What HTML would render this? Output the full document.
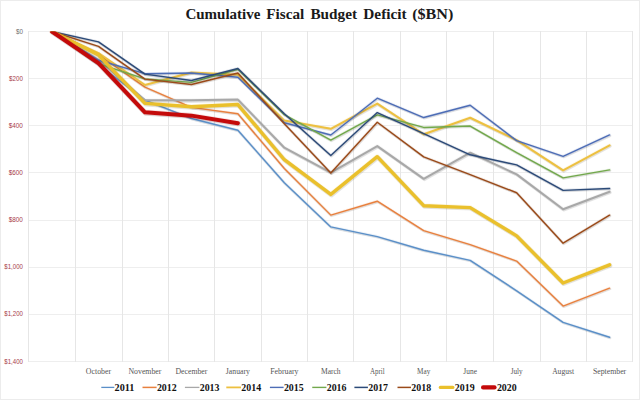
<!DOCTYPE html><html><head><meta charset="utf-8"><style>
html,body{margin:0;padding:0;background:#fff;width:640px;height:400px;overflow:hidden}
svg{display:block}
</style></head><body>
<svg width="640" height="400" viewBox="0 0 640 400">
<rect x="0" y="0" width="640" height="400" fill="#fff"/>
<rect x="0.5" y="0.5" width="639" height="399" fill="none" stroke="#ececec" stroke-width="1"/>
<text x="185.4" y="19.2" font-family="Liberation Serif, serif" font-weight="bold" font-size="15.3" fill="#1a1a1a" textLength="75.0" lengthAdjust="spacingAndGlyphs">Cumulative</text>
<text x="266.3" y="19.2" font-family="Liberation Serif, serif" font-weight="bold" font-size="15.3" fill="#1a1a1a" textLength="38.0" lengthAdjust="spacingAndGlyphs">Fiscal</text>
<text x="310.4" y="19.2" font-family="Liberation Serif, serif" font-weight="bold" font-size="15.3" fill="#1a1a1a" textLength="46.6" lengthAdjust="spacingAndGlyphs">Budget</text>
<text x="363.3" y="19.2" font-family="Liberation Serif, serif" font-weight="bold" font-size="15.3" fill="#1a1a1a" textLength="43.4" lengthAdjust="spacingAndGlyphs">Deficit</text>
<text x="412.2" y="19.2" font-family="Liberation Serif, serif" font-weight="bold" font-size="15.3" fill="#1a1a1a" textLength="41.2" lengthAdjust="spacingAndGlyphs">($BN)</text>
<path d="M28.00 31.50H633.00M28.00 78.50H633.00M28.00 125.50H633.00M28.00 172.50H633.00M28.00 220.50H633.00M28.00 267.50H633.00M28.00 314.50H633.00M28.00 361.50H633.00" stroke="#eeeeee" stroke-width="1" fill="none"/>
<path d="M28.50 31.00V362.00M75.50 31.00V362.00M122.50 31.00V362.00M168.50 31.00V362.00M214.50 31.00V362.00M261.50 31.00V362.00M307.50 31.00V362.00M353.50 31.00V362.00M400.50 31.00V362.00M446.50 31.00V362.00M493.50 31.00V362.00M540.50 31.00V362.00M586.50 31.00V362.00M632.50 31.00V362.00" stroke="#e6e6e6" stroke-width="1" fill="none"/>
<text x="15.90" y="33.50" font-family="Liberation Sans, sans-serif" font-size="8" fill="#707070" textLength="7.0" lengthAdjust="spacingAndGlyphs">$0</text>
<text x="9.10" y="80.64" font-family="Liberation Sans, sans-serif" font-size="8" fill="#a83c4a" textLength="13.8" lengthAdjust="spacingAndGlyphs">$200</text>
<text x="8.70" y="127.79" font-family="Liberation Sans, sans-serif" font-size="8" fill="#a83c4a" textLength="14.2" lengthAdjust="spacingAndGlyphs">$400</text>
<text x="8.70" y="174.93" font-family="Liberation Sans, sans-serif" font-size="8" fill="#a83c4a" textLength="14.2" lengthAdjust="spacingAndGlyphs">$600</text>
<text x="8.70" y="222.07" font-family="Liberation Sans, sans-serif" font-size="8" fill="#a83c4a" textLength="14.2" lengthAdjust="spacingAndGlyphs">$800</text>
<text x="4.30" y="269.21" font-family="Liberation Sans, sans-serif" font-size="8" fill="#a83c4a" textLength="18.6" lengthAdjust="spacingAndGlyphs">$1,000</text>
<text x="4.30" y="316.36" font-family="Liberation Sans, sans-serif" font-size="8" fill="#a83c4a" textLength="18.6" lengthAdjust="spacingAndGlyphs">$1,200</text>
<text x="4.30" y="363.50" font-family="Liberation Sans, sans-serif" font-size="8" fill="#a83c4a" textLength="18.6" lengthAdjust="spacingAndGlyphs">$1,400</text>
<text x="98.49" y="373.6" text-anchor="middle" font-family="Liberation Serif, serif" font-size="8.6" fill="#555" textLength="25.3" lengthAdjust="spacingAndGlyphs">October</text>
<text x="144.95" y="373.6" text-anchor="middle" font-family="Liberation Serif, serif" font-size="8.6" fill="#555" textLength="33.0" lengthAdjust="spacingAndGlyphs">November</text>
<text x="191.41" y="373.6" text-anchor="middle" font-family="Liberation Serif, serif" font-size="8.6" fill="#555" textLength="32.0" lengthAdjust="spacingAndGlyphs">December</text>
<text x="237.87" y="373.6" text-anchor="middle" font-family="Liberation Serif, serif" font-size="8.6" fill="#555" textLength="24.0" lengthAdjust="spacingAndGlyphs">January</text>
<text x="284.33" y="373.6" text-anchor="middle" font-family="Liberation Serif, serif" font-size="8.6" fill="#555" textLength="28.4" lengthAdjust="spacingAndGlyphs">February</text>
<text x="330.79" y="373.6" text-anchor="middle" font-family="Liberation Serif, serif" font-size="8.6" fill="#555" textLength="19.7" lengthAdjust="spacingAndGlyphs">March</text>
<text x="377.25" y="373.6" text-anchor="middle" font-family="Liberation Serif, serif" font-size="8.6" fill="#555" textLength="14.7" lengthAdjust="spacingAndGlyphs">April</text>
<text x="423.71" y="373.6" text-anchor="middle" font-family="Liberation Serif, serif" font-size="8.6" fill="#555" textLength="13.2" lengthAdjust="spacingAndGlyphs">May</text>
<text x="470.17" y="373.6" text-anchor="middle" font-family="Liberation Serif, serif" font-size="8.6" fill="#555" textLength="13.6" lengthAdjust="spacingAndGlyphs">June</text>
<text x="516.63" y="373.6" text-anchor="middle" font-family="Liberation Serif, serif" font-size="8.6" fill="#555" textLength="12.0" lengthAdjust="spacingAndGlyphs">July</text>
<text x="563.09" y="373.6" text-anchor="middle" font-family="Liberation Serif, serif" font-size="8.6" fill="#555" textLength="21.9" lengthAdjust="spacingAndGlyphs">August</text>
<text x="609.55" y="373.6" text-anchor="middle" font-family="Liberation Serif, serif" font-size="8.6" fill="#555" textLength="33.3" lengthAdjust="spacingAndGlyphs">September</text>
<defs><clipPath id="pc"><rect x="28.80" y="31.50" width="603.98" height="330.00"/></clipPath></defs>
<g clip-path="url(#pc)">
<polyline points="52.03,31.50 98.49,64.50 144.95,100.09 191.41,118.48 237.87,130.26 284.33,182.83 330.79,226.91 377.25,236.57 423.71,250.24 470.17,260.38 516.63,290.79 563.09,322.37 609.55,337.22" fill="none" stroke="#000" stroke-opacity="0.10" stroke-width="2.2" stroke-linejoin="round" stroke-linecap="round" transform="translate(0.7,0.9)"/>
<polyline points="52.03,31.50 98.49,64.50 144.95,100.09 191.41,118.48 237.87,130.26 284.33,182.83 330.79,226.91 377.25,236.57 423.71,250.24 470.17,260.38 516.63,290.79 563.09,322.37 609.55,337.22" fill="none" stroke="#5A8FC8" stroke-opacity="0.13" stroke-width="3.0" stroke-linejoin="round" stroke-linecap="round"/>
<polyline points="52.03,31.50 98.49,64.50 144.95,100.09 191.41,118.48 237.87,130.26 284.33,182.83 330.79,226.91 377.25,236.57 423.71,250.24 470.17,260.38 516.63,290.79 563.09,322.37 609.55,337.22" fill="none" stroke="#5A8FC8" stroke-width="1.4" stroke-linejoin="round" stroke-linecap="round"/>
<polyline points="52.03,31.50 98.49,54.60 144.95,87.13 191.41,107.40 237.87,113.76 284.33,168.45 330.79,215.12 377.25,201.21 423.71,230.68 470.17,244.59 516.63,261.09 563.09,306.11 609.55,288.19" fill="none" stroke="#000" stroke-opacity="0.10" stroke-width="2.2" stroke-linejoin="round" stroke-linecap="round" transform="translate(0.7,0.9)"/>
<polyline points="52.03,31.50 98.49,54.60 144.95,87.13 191.41,107.40 237.87,113.76 284.33,168.45 330.79,215.12 377.25,201.21 423.71,230.68 470.17,244.59 516.63,261.09 563.09,306.11 609.55,288.19" fill="none" stroke="#E8803E" stroke-opacity="0.13" stroke-width="3.0" stroke-linejoin="round" stroke-linecap="round"/>
<polyline points="52.03,31.50 98.49,54.60 144.95,87.13 191.41,107.40 237.87,113.76 284.33,168.45 330.79,215.12 377.25,201.21 423.71,230.68 470.17,244.59 516.63,261.09 563.09,306.11 609.55,288.19" fill="none" stroke="#E8803E" stroke-width="1.4" stroke-linejoin="round" stroke-linecap="round"/>
<polyline points="52.03,31.50 98.49,59.79 144.95,100.33 191.41,100.33 237.87,99.62 284.33,147.71 330.79,172.69 377.25,146.06 423.71,178.82 470.17,152.66 516.63,174.34 563.09,209.23 609.55,191.79" fill="none" stroke="#000" stroke-opacity="0.10" stroke-width="2.8" stroke-linejoin="round" stroke-linecap="round" transform="translate(0.7,0.9)"/>
<polyline points="52.03,31.50 98.49,59.79 144.95,100.33 191.41,100.33 237.87,99.62 284.33,147.71 330.79,172.69 377.25,146.06 423.71,178.82 470.17,152.66 516.63,174.34 563.09,209.23 609.55,191.79" fill="none" stroke="#A8A8A8" stroke-opacity="0.13" stroke-width="3.6" stroke-linejoin="round" stroke-linecap="round"/>
<polyline points="52.03,31.50 98.49,59.79 144.95,100.33 191.41,100.33 237.87,99.62 284.33,147.71 330.79,172.69 377.25,146.06 423.71,178.82 470.17,152.66 516.63,174.34 563.09,209.23 609.55,191.79" fill="none" stroke="#A8A8A8" stroke-width="2.0" stroke-linejoin="round" stroke-linecap="round"/>
<polyline points="52.03,31.50 98.49,53.19 144.95,85.01 191.41,72.51 237.87,74.87 284.33,120.60 330.79,128.85 377.25,103.63 423.71,134.27 470.17,117.77 516.63,140.16 563.09,170.34 609.55,145.35" fill="none" stroke="#000" stroke-opacity="0.10" stroke-width="2.8" stroke-linejoin="round" stroke-linecap="round" transform="translate(0.7,0.9)"/>
<polyline points="52.03,31.50 98.49,53.19 144.95,85.01 191.41,72.51 237.87,74.87 284.33,120.60 330.79,128.85 377.25,103.63 423.71,134.27 470.17,117.77 516.63,140.16 563.09,170.34 609.55,145.35" fill="none" stroke="#EDC040" stroke-opacity="0.13" stroke-width="3.6" stroke-linejoin="round" stroke-linecap="round"/>
<polyline points="52.03,31.50 98.49,53.19 144.95,85.01 191.41,72.51 237.87,74.87 284.33,120.60 330.79,128.85 377.25,103.63 423.71,134.27 470.17,117.77 516.63,140.16 563.09,170.34 609.55,145.35" fill="none" stroke="#EDC040" stroke-width="2.0" stroke-linejoin="round" stroke-linecap="round"/>
<polyline points="52.03,31.50 98.49,60.26 144.95,73.69 191.41,72.99 237.87,77.23 284.33,122.72 330.79,134.98 377.25,98.21 423.71,117.54 470.17,105.28 516.63,140.64 563.09,156.43 609.55,134.98" fill="none" stroke="#000" stroke-opacity="0.10" stroke-width="2.2" stroke-linejoin="round" stroke-linecap="round" transform="translate(0.7,0.9)"/>
<polyline points="52.03,31.50 98.49,60.26 144.95,73.69 191.41,72.99 237.87,77.23 284.33,122.72 330.79,134.98 377.25,98.21 423.71,117.54 470.17,105.28 516.63,140.64 563.09,156.43 609.55,134.98" fill="none" stroke="#4D6DB6" stroke-opacity="0.13" stroke-width="3.0" stroke-linejoin="round" stroke-linecap="round"/>
<polyline points="52.03,31.50 98.49,60.26 144.95,73.69 191.41,72.99 237.87,77.23 284.33,122.72 330.79,134.98 377.25,98.21 423.71,117.54 470.17,105.28 516.63,140.64 563.09,156.43 609.55,134.98" fill="none" stroke="#4D6DB6" stroke-width="1.4" stroke-linejoin="round" stroke-linecap="round"/>
<polyline points="52.03,31.50 98.49,63.79 144.95,78.88 191.41,82.41 237.87,69.21 284.33,114.71 330.79,140.16 377.25,114.94 423.71,127.44 470.17,126.02 516.63,152.66 563.09,177.88 609.55,169.86" fill="none" stroke="#000" stroke-opacity="0.10" stroke-width="2.2" stroke-linejoin="round" stroke-linecap="round" transform="translate(0.7,0.9)"/>
<polyline points="52.03,31.50 98.49,63.79 144.95,78.88 191.41,82.41 237.87,69.21 284.33,114.71 330.79,140.16 377.25,114.94 423.71,127.44 470.17,126.02 516.63,152.66 563.09,177.88 609.55,169.86" fill="none" stroke="#72A84C" stroke-opacity="0.13" stroke-width="3.0" stroke-linejoin="round" stroke-linecap="round"/>
<polyline points="52.03,31.50 98.49,63.79 144.95,78.88 191.41,82.41 237.87,69.21 284.33,114.71 330.79,140.16 377.25,114.94 423.71,127.44 470.17,126.02 516.63,152.66 563.09,177.88 609.55,169.86" fill="none" stroke="#72A84C" stroke-width="1.4" stroke-linejoin="round" stroke-linecap="round"/>
<polyline points="52.03,31.50 98.49,41.87 144.95,74.16 191.41,80.53 237.87,68.51 284.33,113.76 330.79,155.49 377.25,112.59 423.71,133.56 470.17,154.78 516.63,164.91 563.09,190.37 609.55,188.49" fill="none" stroke="#000" stroke-opacity="0.10" stroke-width="2.2" stroke-linejoin="round" stroke-linecap="round" transform="translate(0.7,0.9)"/>
<polyline points="52.03,31.50 98.49,41.87 144.95,74.16 191.41,80.53 237.87,68.51 284.33,113.76 330.79,155.49 377.25,112.59 423.71,133.56 470.17,154.78 516.63,164.91 563.09,190.37 609.55,188.49" fill="none" stroke="#2C4A78" stroke-opacity="0.13" stroke-width="3.0" stroke-linejoin="round" stroke-linecap="round"/>
<polyline points="52.03,31.50 98.49,41.87 144.95,74.16 191.41,80.53 237.87,68.51 284.33,113.76 330.79,155.49 377.25,112.59 423.71,133.56 470.17,154.78 516.63,164.91 563.09,190.37 609.55,188.49" fill="none" stroke="#2C4A78" stroke-width="1.4" stroke-linejoin="round" stroke-linecap="round"/>
<polyline points="52.03,31.50 98.49,46.35 144.95,79.11 191.41,84.54 237.87,72.99 284.33,123.66 330.79,172.93 377.25,122.25 423.71,156.90 470.17,174.58 516.63,192.73 563.09,243.17 609.55,215.12" fill="none" stroke="#000" stroke-opacity="0.10" stroke-width="2.2" stroke-linejoin="round" stroke-linecap="round" transform="translate(0.7,0.9)"/>
<polyline points="52.03,31.50 98.49,46.35 144.95,79.11 191.41,84.54 237.87,72.99 284.33,123.66 330.79,172.93 377.25,122.25 423.71,156.90 470.17,174.58 516.63,192.73 563.09,243.17 609.55,215.12" fill="none" stroke="#9A4A1A" stroke-opacity="0.13" stroke-width="3.0" stroke-linejoin="round" stroke-linecap="round"/>
<polyline points="52.03,31.50 98.49,46.35 144.95,79.11 191.41,84.54 237.87,72.99 284.33,123.66 330.79,172.93 377.25,122.25 423.71,156.90 470.17,174.58 516.63,192.73 563.09,243.17 609.55,215.12" fill="none" stroke="#9A4A1A" stroke-width="1.4" stroke-linejoin="round" stroke-linecap="round"/>
<polyline points="52.03,31.50 98.49,55.07 144.95,103.39 191.41,106.69 237.87,104.57 284.33,159.73 330.79,194.38 377.25,156.66 423.71,205.69 470.17,207.58 516.63,235.86 563.09,283.01 609.55,264.86" fill="none" stroke="#000" stroke-opacity="0.10" stroke-width="4.2" stroke-linejoin="round" stroke-linecap="round" transform="translate(0.7,0.9)"/>
<polyline points="52.03,31.50 98.49,55.07 144.95,103.39 191.41,106.69 237.87,104.57 284.33,159.73 330.79,194.38 377.25,156.66 423.71,205.69 470.17,207.58 516.63,235.86 563.09,283.01 609.55,264.86" fill="none" stroke="#EAC02C" stroke-opacity="0.13" stroke-width="5.0" stroke-linejoin="round" stroke-linecap="round"/>
<polyline points="52.03,31.50 98.49,55.07 144.95,103.39 191.41,106.69 237.87,104.57 284.33,159.73 330.79,194.38 377.25,156.66 423.71,205.69 470.17,207.58 516.63,235.86 563.09,283.01 609.55,264.86" fill="none" stroke="#EAC02C" stroke-width="3.4" stroke-linejoin="round" stroke-linecap="round"/>
<polyline points="52.03,31.50 98.49,63.09 144.95,112.35 191.41,115.65 237.87,123.19" fill="none" stroke="#000" stroke-opacity="0.10" stroke-width="4.8" stroke-linejoin="round" stroke-linecap="round" transform="translate(0.7,0.9)"/>
<polyline points="52.03,31.50 98.49,63.09 144.95,112.35 191.41,115.65 237.87,123.19" fill="none" stroke="#C40A0A" stroke-opacity="0.13" stroke-width="5.6" stroke-linejoin="round" stroke-linecap="round"/>
<polyline points="52.03,31.50 98.49,63.09 144.95,112.35 191.41,115.65 237.87,123.19" fill="none" stroke="#C40A0A" stroke-width="4.0" stroke-linejoin="round" stroke-linecap="round"/>
</g>
<line x1="101.30" y1="387.4" x2="114.30" y2="387.4" stroke="#5A8FC8" stroke-width="1.3" stroke-linecap="butt"/>
<text x="114.60" y="391.2" font-family="Liberation Serif, serif" font-weight="bold" font-size="10.5" fill="#111" textLength="19.8" lengthAdjust="spacingAndGlyphs">2011</text>
<line x1="142.50" y1="387.4" x2="156.60" y2="387.4" stroke="#E8803E" stroke-width="1.5" stroke-linecap="butt"/>
<text x="156.90" y="391.2" font-family="Liberation Serif, serif" font-weight="bold" font-size="10.5" fill="#111" textLength="19.8" lengthAdjust="spacingAndGlyphs">2012</text>
<line x1="184.90" y1="387.4" x2="199.40" y2="387.4" stroke="#A8A8A8" stroke-width="1.3" stroke-linecap="butt"/>
<text x="199.70" y="391.2" font-family="Liberation Serif, serif" font-weight="bold" font-size="10.5" fill="#111" textLength="19.8" lengthAdjust="spacingAndGlyphs">2013</text>
<line x1="226.30" y1="387.4" x2="241.00" y2="387.4" stroke="#EDC040" stroke-width="1.8" stroke-linecap="butt"/>
<text x="241.30" y="391.2" font-family="Liberation Serif, serif" font-weight="bold" font-size="10.5" fill="#111" textLength="19.8" lengthAdjust="spacingAndGlyphs">2014</text>
<line x1="269.90" y1="387.4" x2="283.60" y2="387.4" stroke="#4D6DB6" stroke-width="1.4" stroke-linecap="butt"/>
<text x="283.90" y="391.2" font-family="Liberation Serif, serif" font-weight="bold" font-size="10.5" fill="#111" textLength="19.8" lengthAdjust="spacingAndGlyphs">2015</text>
<line x1="312.25" y1="387.4" x2="326.40" y2="387.4" stroke="#72A84C" stroke-width="1.4" stroke-linecap="butt"/>
<text x="326.70" y="391.2" font-family="Liberation Serif, serif" font-weight="bold" font-size="10.5" fill="#111" textLength="19.8" lengthAdjust="spacingAndGlyphs">2016</text>
<line x1="354.40" y1="387.4" x2="367.90" y2="387.4" stroke="#2C4A78" stroke-width="1.5" stroke-linecap="butt"/>
<text x="368.20" y="391.2" font-family="Liberation Serif, serif" font-weight="bold" font-size="10.5" fill="#111" textLength="19.8" lengthAdjust="spacingAndGlyphs">2017</text>
<line x1="397.50" y1="387.4" x2="411.00" y2="387.4" stroke="#9A4A1A" stroke-width="1.5" stroke-linecap="butt"/>
<text x="411.30" y="391.2" font-family="Liberation Serif, serif" font-weight="bold" font-size="10.5" fill="#111" textLength="19.8" lengthAdjust="spacingAndGlyphs">2018</text>
<line x1="440.35" y1="387.4" x2="452.90" y2="387.4" stroke="#EAC02C" stroke-width="3.2" stroke-linecap="round"/>
<text x="454.80" y="391.2" font-family="Liberation Serif, serif" font-weight="bold" font-size="10.5" fill="#111" textLength="19.8" lengthAdjust="spacingAndGlyphs">2019</text>
<line x1="483.10" y1="387.4" x2="494.50" y2="387.4" stroke="#C40A0A" stroke-width="4.2" stroke-linecap="round"/>
<text x="496.90" y="391.2" font-family="Liberation Serif, serif" font-weight="bold" font-size="10.5" fill="#111" textLength="19.8" lengthAdjust="spacingAndGlyphs">2020</text>
</svg></body></html>
